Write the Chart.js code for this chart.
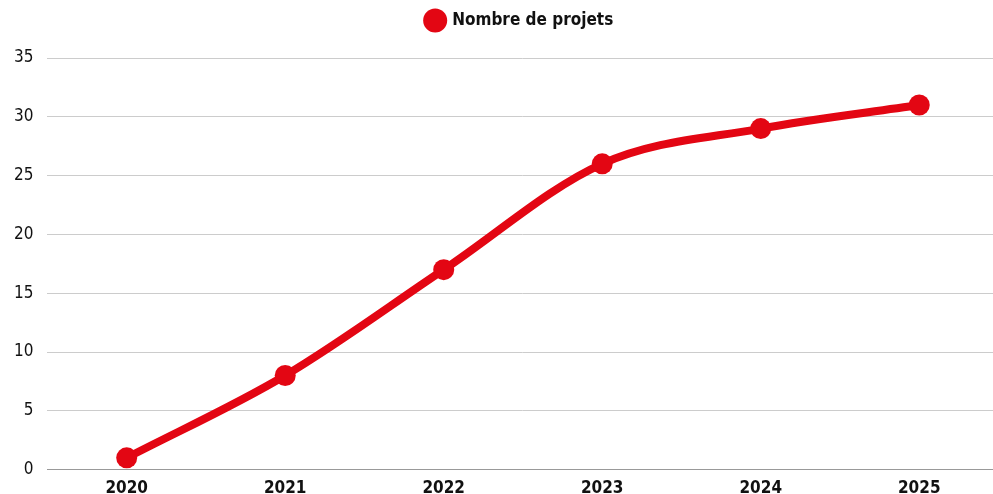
<!DOCTYPE html>
<html>
<head>
<meta charset="utf-8">
<script src="https://cdn.jsdelivr.net/npm/chart.js@4"></script>
<style>
  html, body { margin: 0; padding: 0; background: #fff; overflow: hidden; }
  #wrap { width: 1009px; height: 494px; position: relative; }
</style>
</head>
<body>
<div id="wrap"><canvas id="myChart"></canvas></div>
<script>
const years = ['2020', '2021', '2022', '2023', '2024', '2025'];
const projets = [1, 8, 17, 26, 29, 31];
const seriesLabel = 'Nombre de projets';

const RED = 'rgb(227, 6, 19)';
const FONT = '"DejaVu Sans Condensed", "Liberation Sans Narrow", "Noto Sans", sans-serif';

Chart.defaults.font.family = FONT;
Chart.defaults.color = '#111';

// more room under the legend, and centre it over the plot area
const legendSpace = {
  id: 'legendSpace',
  beforeInit(chart) {
    const origFit = chart.legend.fit;
    chart.legend.fit = function () {
      origFit.bind(chart.legend)();
      this.height += 19;
    };
  },
  afterLayout(chart) {
    const lg = chart.legend;
    const area = chart.chartArea;
    const d = (area.left + area.right) / 2 - (lg.left + lg.right) / 2 - 3;
    lg.left += d;
    lg.right += d;
  }
};

const config = {
  type: 'line',
  data: {
    labels: years,
    datasets: [{
      label: seriesLabel,
      data: projets,
      borderColor: RED,
      backgroundColor: RED,
      borderWidth: 8,
      pointRadius: 10.5,
      pointHoverRadius: 10.5,
      pointBackgroundColor: RED,
      pointBorderWidth: 0,
      cubicInterpolationMode: 'monotone',
      fill: false
    }]
  },
  options: {
    responsive: true,
    maintainAspectRatio: false,
    animation: false,
    layout: { padding: { left: 0, right: 0, top: 2, bottom: -14 } },
    scales: {
      x: {
        offset: true,
        grid: { display: false, drawTicks: false },
        border: { display: true, color: '#999', width: 1 },
        ticks: { font: { size: 17, weight: 'bold' }, padding: 9, color: '#111' }
      },
      y: {
        min: 0,
        max: 35,
        ticks: { stepSize: 5, font: { size: 17 }, padding: 14, color: '#111' },
        grid: { color: '#cccccc', drawTicks: false },
        border: { display: false }
      }
    },
    plugins: {
      legend: {
        labels: {
          usePointStyle: true,
          pointStyle: 'circle',
          boxWidth: 19,
          boxHeight: 19,
          font: { size: 17, weight: 'bold' },
          color: '#111',
          padding: 10
        }
      },
      tooltip: { enabled: false }
    }
  },
  plugins: [legendSpace]
};

const ctx = document.getElementById('myChart').getContext('2d');
const myChart = new Chart(ctx, config);
</script>
</body>
</html>
